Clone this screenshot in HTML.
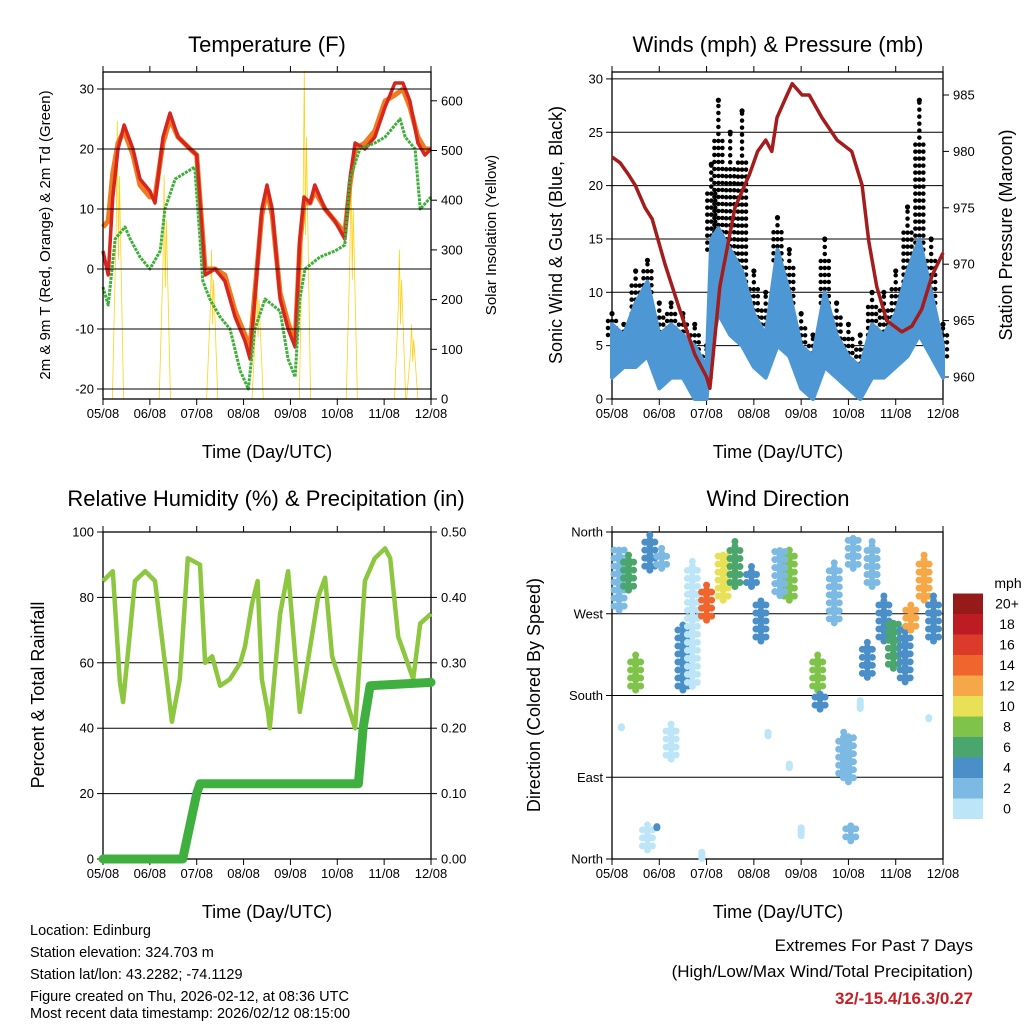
<!DOCTYPE html>
<html><head><meta charset="utf-8"><style>
html,body{margin:0;padding:0;background:#fff}
svg{display:block;font-family:"Liberation Sans",sans-serif}
</style></head><body>
<svg id="c" width="1024" height="1024" viewBox="0 0 1024 1024" xmlns="http://www.w3.org/2000/svg">
<g id="g"></g>
<g font-size="14.5" fill="#000">
<text x="30" y="935">Location: Edinburg</text>
<text x="30" y="957">Station elevation: 324.703 m</text>
<text x="30" y="979">Station lat/lon: 43.2282; -74.1129</text>
<text x="30" y="1001">Figure created on Thu, 2026-02-12, at 08:36 UTC</text>
<text x="30" y="1018">Most recent data timestamp: 2026/02/12 08:15:00</text>
</g>
<g text-anchor="end" font-size="17">
<text x="973" y="951">Extremes For Past 7 Days</text>
<text x="973" y="977">(High/Low/Max Wind/Total Precipitation)</text>
<text x="973" y="1004" fill="#c42026" font-weight="bold">32/-15.4/16.3/0.27</text>
</g>
</svg>
<script>
// ---- data ----
const dayLabels=["05/08","06/08","07/08","08/08","09/08","10/08","11/08","12/08"];
const tempT=[0,.11,.21,.32,.45,.64,.79,1.0,1.11,1.28,1.43,1.6,1.86,2.0,2.18,2.39,2.6,2.82,3.03,3.14,3.24,3.39,3.5,3.61,3.78,3.95,4.1,4.2,4.29,4.42,4.52,4.74,4.95,5.16,5.27,5.38,5.59,5.8,6.02,6.23,6.4,6.55,6.72,6.87,7];
const tempRed=[3,-1,12,20,24,20,15,13,11,22,26,22,20,19,-1,0,-2,-8,-12,-15,-5,10,14,10,-5,-10,-13,5,12,11,14,10,8,5,15,21,20,22,27,31,31,28,21,19,20];
const tempOrange=[7,8,16,21,23,19,14,12,12,21,25,22,20,19,0,0,-1,-7,-11,-13,-4,9,13,9,-4,-9,-12,4,11,11,13,10,8,6,14,20,21,23,28,29,30,27,22,20,20];
const dewT=[0,.11,.26,.47,.58,.79,1.0,1.22,1.32,1.54,1.75,1.96,2.07,2.13,2.28,2.5,2.71,2.93,3.1,3.24,3.46,3.78,3.95,4.1,4.2,4.31,4.63,4.95,5.16,5.27,5.48,5.8,6.02,6.34,6.45,6.66,6.77,7];
const dewG=[-3,-6,5,7,5,2,0,3,10,15,16,17,5,-2,-5,-8,-10,-17,-20,-10,-5,-7,-15,-18,-5,0,2,3,4,15,20,21,22,25,22,20,10,12];
const solarT=[.32,1.32,2.33,3.3,4.31,5.31,6.34,6.6];
const solarPeak=[560,450,300,250,660,480,300,150];
const windT=[0,.25,.5,.75,1,1.25,1.5,1.75,2,2.1,2.25,2.5,2.75,3,3.25,3.5,3.75,4,4.25,4.5,4.75,5,5.25,5.5,5.75,6,6.25,6.5,6.75,7];
const windLo=[2,3,3,4,1,2,2,0,0,5,8,6,5,3,2,5,4,1,0,3,2,1,0,2,2,3,4,6,4,2];
const windHi=[7,6,9,11,6,7,6,5,3,15,16,14,12,8,6,14,10,5,4,10,6,4,3,7,6,8,12,15,10,5];
const gustHi=[8,7,12,13,9,9,8,7,5,22,28,25,27,12,10,17,14,8,6,15,9,7,6,10,10,12,18,28,15,7];
const presT=[0,.17,.34,.49,.7,.85,1.12,1.43,1.75,2.0,2.07,2.28,2.6,2.91,3.08,3.25,3.38,3.49,3.7,3.81,4.02,4.17,4.44,4.76,5.07,5.29,5.43,5.6,5.81,6.13,6.34,6.55,6.77,7];
const presV=[979.5,979,978,977,975,974,970,966,962,960,959,968,975,978,980,981,980,983,985,986,985,985,983,981,980,977,972,968,965,964,964.5,966,969,971];
const rhT=[0,.21,.36,.43,.58,.68,.9,1.11,1.32,1.47,1.64,1.81,2.07,2.18,2.33,2.5,2.71,2.93,3.03,3.18,3.3,3.39,3.52,3.56,3.78,3.95,4.2,4.31,4.59,4.74,4.89,5.38,5.59,5.8,6.02,6.13,6.3,6.45,6.62,6.77,7];
const rhV=[85,88,54,48,70,85,88,85,60,42,55,92,90,60,62,53,55,60,65,78,85,55,45,40,75,88,45,55,80,86,62,40,85,92,95,92,68,62,55,72,75];
const rainT=[0,1.7,1.85,2.0,2.07,5.45,5.55,5.7,7];
const rainV=[0,0,.05,.1,.115,.115,.2,.265,.27];
const dirT=[.15,.35,.5,.8,1.05,1.5,1.7,2.0,2.35,2.95,3.15,3.75,4.35,4.4,4.7,5.1,5.4,5.75,5.95,6.2,6.32,6.6,6.8,.2,.75,1.25,1.9,3.3,3.75,4.0,4.9,5.0,5.05,5.25,6.7,.95,2.6,3.55,5.5];
const dirLo=[274,296,186,318,320,186,190,263,285,300,240,285,186,165,260,320,200,240,210,195,252,285,240,140,10,110,3,135,100,30,90,85,20,170,150,30,300,290,300];
const dirHi=[345,335,230,357,345,258,330,302,340,325,285,345,230,185,330,357,240,290,265,260,285,335,290,150,40,150,5,140,105,30,140,140,40,170,160,40,350,345,350];
const dirSpd=[2,6,8,4,2,4,1,15,11,4,4,9,9,4,2,3,5,4,6,4,13,12,4,1,1,1,1,1,1,1,3,2,2,1,1,4,6,2,2];
const speedColors=["#bde5f8","#7cb9e3","#4a8fc8","#4aa66c","#80c34a","#e8e055","#f6a848","#f0652e","#dc3a2a","#bd1c22","#961a1a"];
const speedLabels=["0","2","4","6","8","10","12","14","16","18","20+"];

// ---- helpers ----
const NS="http://www.w3.org/2000/svg";
const G=document.getElementById('g');
function el(tag,attrs,parent){const e=document.createElementNS(NS,tag);for(const k in attrs)e.setAttribute(k,attrs[k]);(parent||G).appendChild(e);return e;}
function txt(x,y,s,size,anchor,rot,parent){const e=el('text',{x:x,y:y,'font-size':size,'text-anchor':anchor||'middle'},parent);if(rot)e.setAttribute('transform','rotate('+rot+' '+x+' '+y+')');e.textContent=s;return e;}
function poly(pts,attrs,parent){return el('polyline',Object.assign({points:pts.map(p=>p[0].toFixed(1)+','+p[1].toFixed(1)).join(' '),fill:'none'},attrs),parent);}

function panel(name,L,R,T,B){
  const g=el('g',{});
  
  
  return {g:g,L:L,R:R,T:T,B:B,x:t=>L+(R-L)*t/7};
}
function frame(p,yTicks,yFn,yLab,rTicks,rFn,rLab,gridVals){
  const g=p.g;
  gridVals.forEach(v=>{const y=yFn(v);el('line',{x1:p.L,x2:p.R,y1:y,y2:y,stroke:'#000','stroke-width':1},g);});
  el('rect',{x:p.L,y:p.T,width:p.R-p.L,height:p.B-p.T,fill:'none',stroke:'#000','stroke-width':1.3},g);
  yTicks.forEach((v,i)=>{const y=yFn(v);el('line',{x1:p.L-6,x2:p.L,y1:y,y2:y,stroke:'#000'},g);txt(p.L-9,y+4.5,yLab[i],13,'end',0,g);});
  rTicks.forEach((v,i)=>{const y=rFn(v);el('line',{x1:p.R,x2:p.R+6,y1:y,y2:y,stroke:'#000'},g);txt(p.R+10,y+4.5,rLab[i],13,'start',0,g);});
  dayLabels.forEach((d,i)=>{const x=p.x(i);el('line',{x1:x,x2:x,y1:p.B,y2:p.B+6,stroke:'#000'},g);el('line',{x1:x,x2:x,y1:p.T,y2:p.T-6,stroke:'#000'},g);txt(x,p.B+19,d,13,'middle',0,g);});
}

// ---- Panel 1: Temperature ----
{
 const p=panel('temperature-panel',103,431,72,399);
 const yT=v=>269-6*v, yS=v=>399-v*0.497;
 const sol=el('g',{},p.g);
 solarT.forEach((t,i)=>{const pk=solarPeak[i];
   poly([[p.x(t-.12),yS(0)],[p.x(t-.04),yS(pk*.6)],[p.x(t-.015),yS(pk)],[p.x(t+.01),yS(pk*.5)],[p.x(t+.03),yS(pk*.8)],[p.x(t+.12),yS(0)]],{stroke:'#ffd21a','stroke-width':0.8},sol);});
 const o=poly(tempT.map((t,i)=>[p.x(t),yT(tempOrange[i])]),{stroke:'#f07a22','stroke-width':5,'stroke-linejoin':'round'},p.g);
 
 const r=poly(tempT.map((t,i)=>[p.x(t),yT(tempRed[i])]),{stroke:'#d7261e','stroke-width':3.5,'stroke-linejoin':'round'},p.g);
 
 const d=poly(dewT.map((t,i)=>[p.x(t),yT(dewG[i])]),{stroke:'#3fae3a','stroke-width':3,'stroke-dasharray':'3 1','stroke-linejoin':'round'},p.g);
 
 frame(p,[-20,-10,0,10,20,30],yT,["-20","-10","0","10","20","30"],[0,100,200,300,400,500,600],yS,["0","100","200","300","400","500","600"],[-20,-10,0,10,20,30]);
 txt(267,52,'Temperature (F)',22,'middle',0,p.g);
 txt(267,458,'Time (Day/UTC)',18,'middle',0,p.g);
 txt(50,235,'2m & 9m T (Red, Orange) & 2m Td (Green)',15,'middle',-90,p.g);
 txt(496,235,'Solar Insolation (Yellow)',15,'middle',-90,p.g);
}
// ---- Panel 2: Winds ----
{
 const p=panel('winds-panel',612,943,72,399);
 const yW=v=>399-10.67*v, yP=v=>377-(v-960)*11.28;
 frame(p,[0,5,10,15,20,25,30],yW,["0","5","10","15","20","25","30"],[960,965,970,975,980,985],yP,["960","965","970","975","980","985"],[5,10,15,20,25,30]);
 const gw=el('g',{},p.g);
 const bw=el('g',{},p.g);
 const band=el('polygon',{points:windT.map((t,i)=>p.x(t)+','+yW(windHi[i])).concat(windT.slice().reverse().map((t,j)=>{const i=windT.length-1-j;return p.x(t)+','+yW(windLo[i]);})).join(' '),fill:'#4d98d4',stroke:'#4d98d4','stroke-width':4,'stroke-linejoin':'round'},bw);
 windT.forEach((t,i)=>{const x=p.x(t);
   [-4,0,4].forEach((dx,k)=>{
     const top=windHi[i]+(gustHi[i]-windHi[i])*(k===1?1:0.7);
     el('line',{x1:x+dx,x2:x+dx,y1:yW(windHi[i]-1),y2:yW(top),stroke:'#000','stroke-width':4.5,'stroke-linecap':'round','stroke-dasharray':'0 7'},gw);});
   el('circle',{cx:x,cy:yW(gustHi[i]),r:2.6,fill:'#000'},gw);});
 const pr=poly(presT.map((t,i)=>[p.x(t),yP(presV[i])]),{stroke:'#a51c1c','stroke-width':3.5,'stroke-linejoin':'round'},p.g);
 
 txt(778,52,'Winds (mph) & Pressure (mb)',22,'middle',0,p.g);
 txt(778,458,'Time (Day/UTC)',18,'middle',0,p.g);
 txt(562,235,'Sonic Wind & Gust (Blue, Black)',18,'middle',-90,p.g);
 txt(1012,235,'Station Pressure (Maroon)',18,'middle',-90,p.g);
}
// ---- Panel 3: RH ----
{
 const p=panel('humidity-panel',103,431,532,859);
 const yR=v=>859-3.27*v, yPr=v=>859-654*v;
 frame(p,[0,20,40,60,80,100],yR,["0","20","40","60","80","100"],[0,.1,.2,.3,.4,.5],yPr,["0.00","0.10","0.20","0.30","0.40","0.50"],[20,40,60,80]);
 const h=poly(rhT.map((t,i)=>[p.x(t),yR(rhV[i])]),{stroke:'#8dc63f','stroke-width':4.5,'stroke-linejoin':'round'},p.g);
 
 const rn=poly(rainT.map((t,i)=>[p.x(t),yPr(rainV[i])]),{stroke:'#3fb03f','stroke-width':9,'stroke-linejoin':'round','stroke-linecap':'round'},p.g);
 
 txt(266,506,'Relative Humidity (%) & Precipitation (in)',22,'middle',0,p.g);
 txt(267,918,'Time (Day/UTC)',18,'middle',0,p.g);
 txt(44,695,'Percent & Total Rainfall',18,'middle',-90,p.g);
}
// ---- Panel 4: Wind direction ----
{
 const p=panel('wind-direction-panel',612,943,532,859);
 const yD=v=>859-v*(327/360);
 frame(p,[0,90,180,270,360],yD,["North","East","South","West","North"],[],yD,[],[90,180,270]);
 const sc=el('g',{},p.g);
 dirT.forEach((t,i)=>{const x=p.x(t);const c=speedColors[Math.min(10,Math.floor(dirSpd[i]/2))];
   const wide=dirHi[i]-dirLo[i]>10;
   const offs=wide?[-5,0,5]:[0];
   offs.forEach((dx,k)=>{
     const ln=el('line',{x1:x+dx,x2:x+dx,y1:yD(dirLo[i])-(k===1?0:4),y2:yD(dirHi[i])+(k===1?0:4),stroke:c,'stroke-width':7,'stroke-linecap':'round','stroke-dasharray':wide?(k===1?'0 5':'0 8'):'none'},sc);
     
   });});
 const cb=el('g',{},p.g);
 speedColors.forEach((c,i)=>{const y=819-(i+1)*20.5;el('rect',{x:953,y:y,width:30,height:20.5,fill:c},cb);txt(1007,y+15,speedLabels[i],14,'middle',0,cb);});
 txt(1008,588,'mph',14,'middle',0,cb);
 txt(778,506,'Wind Direction',22,'middle',0,p.g);
 txt(778,918,'Time (Day/UTC)',18,'middle',0,p.g);
 txt(540,695,'Direction (Colored By Speed)',18,'middle',-90,p.g);
}
</script>
</body></html>
